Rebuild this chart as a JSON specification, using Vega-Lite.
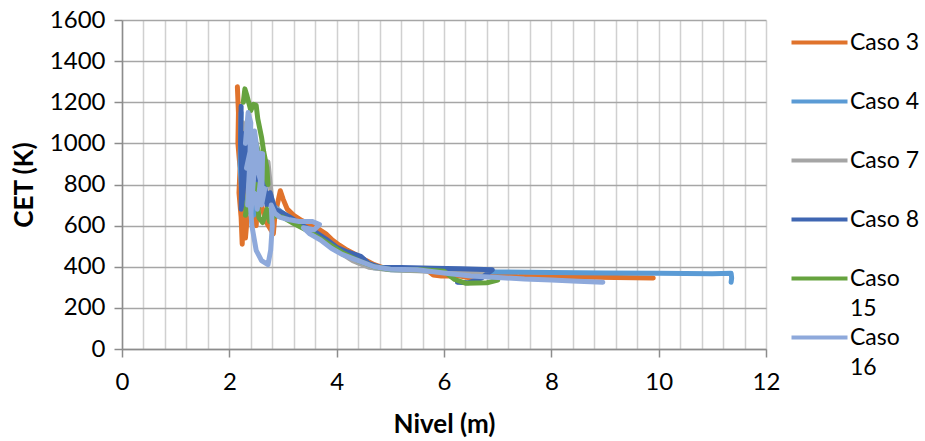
{
  "$schema": "https://vega.github.io/schema/vega-lite/v6.json",
  "autosize": {"type": "none"},
  "padding": {"left": 122, "top": 20, "right": 159, "bottom": 92},
  "width": 644,
  "height": 329,
  "background": "white",
  "config": {
    "view": {"stroke": null},
    "font": "Lato",
    "style": {"guide-label": {"lineHeight": 30}}
  },
  "data": {
    "values": [
      {"caso": "Caso 3", "i": 1, "x": 2.15, "y": 1275},
      {"caso": "Caso 3", "i": 2, "x": 2.17, "y": 1150},
      {"caso": "Caso 3", "i": 3, "x": 2.16, "y": 1000},
      {"caso": "Caso 3", "i": 4, "x": 2.2, "y": 880},
      {"caso": "Caso 3", "i": 5, "x": 2.18, "y": 760},
      {"caso": "Caso 3", "i": 6, "x": 2.22, "y": 640},
      {"caso": "Caso 3", "i": 7, "x": 2.24, "y": 510},
      {"caso": "Caso 3", "i": 8, "x": 2.26, "y": 700},
      {"caso": "Caso 3", "i": 9, "x": 2.3, "y": 950},
      {"caso": "Caso 3", "i": 10, "x": 2.33, "y": 800},
      {"caso": "Caso 3", "i": 11, "x": 2.3, "y": 540},
      {"caso": "Caso 3", "i": 12, "x": 2.42, "y": 900},
      {"caso": "Caso 3", "i": 13, "x": 2.45, "y": 720},
      {"caso": "Caso 3", "i": 14, "x": 2.5, "y": 600},
      {"caso": "Caso 3", "i": 15, "x": 2.55, "y": 820},
      {"caso": "Caso 3", "i": 16, "x": 2.6, "y": 700},
      {"caso": "Caso 3", "i": 17, "x": 2.68, "y": 620},
      {"caso": "Caso 3", "i": 18, "x": 2.82, "y": 560},
      {"caso": "Caso 3", "i": 19, "x": 2.85, "y": 650},
      {"caso": "Caso 3", "i": 20, "x": 2.95, "y": 770},
      {"caso": "Caso 3", "i": 21, "x": 3.0, "y": 730},
      {"caso": "Caso 3", "i": 22, "x": 3.08, "y": 680},
      {"caso": "Caso 3", "i": 23, "x": 3.2, "y": 650},
      {"caso": "Caso 3", "i": 24, "x": 3.35, "y": 625},
      {"caso": "Caso 3", "i": 25, "x": 3.5, "y": 605},
      {"caso": "Caso 3", "i": 26, "x": 3.65, "y": 585},
      {"caso": "Caso 3", "i": 27, "x": 3.8, "y": 560},
      {"caso": "Caso 3", "i": 28, "x": 3.92, "y": 530},
      {"caso": "Caso 3", "i": 29, "x": 4.05, "y": 505},
      {"caso": "Caso 3", "i": 30, "x": 4.2, "y": 480},
      {"caso": "Caso 3", "i": 31, "x": 4.35, "y": 460},
      {"caso": "Caso 3", "i": 32, "x": 4.55, "y": 430},
      {"caso": "Caso 3", "i": 33, "x": 4.7, "y": 410},
      {"caso": "Caso 3", "i": 34, "x": 4.9, "y": 392},
      {"caso": "Caso 3", "i": 35, "x": 5.3, "y": 386},
      {"caso": "Caso 3", "i": 36, "x": 5.7, "y": 380},
      {"caso": "Caso 3", "i": 37, "x": 5.8, "y": 360},
      {"caso": "Caso 3", "i": 38, "x": 5.95, "y": 355},
      {"caso": "Caso 3", "i": 39, "x": 6.3, "y": 355},
      {"caso": "Caso 3", "i": 40, "x": 6.5, "y": 345},
      {"caso": "Caso 3", "i": 41, "x": 7.0, "y": 360},
      {"caso": "Caso 3", "i": 42, "x": 7.4, "y": 352},
      {"caso": "Caso 3", "i": 43, "x": 8.5, "y": 350},
      {"caso": "Caso 3", "i": 44, "x": 9.9, "y": 345},

      {"caso": "Caso 4", "i": 1, "x": 2.22, "y": 1150},
      {"caso": "Caso 4", "i": 2, "x": 2.2, "y": 900},
      {"caso": "Caso 4", "i": 3, "x": 2.24, "y": 700},
      {"caso": "Caso 4", "i": 4, "x": 2.28, "y": 1000},
      {"caso": "Caso 4", "i": 5, "x": 2.35, "y": 800},
      {"caso": "Caso 4", "i": 6, "x": 2.45, "y": 650},
      {"caso": "Caso 4", "i": 7, "x": 2.55, "y": 900},
      {"caso": "Caso 4", "i": 8, "x": 2.65, "y": 720},
      {"caso": "Caso 4", "i": 9, "x": 2.8, "y": 700},
      {"caso": "Caso 4", "i": 10, "x": 3.0, "y": 660},
      {"caso": "Caso 4", "i": 11, "x": 3.2, "y": 620},
      {"caso": "Caso 4", "i": 12, "x": 3.5, "y": 580},
      {"caso": "Caso 4", "i": 13, "x": 3.8, "y": 520},
      {"caso": "Caso 4", "i": 14, "x": 4.1, "y": 470},
      {"caso": "Caso 4", "i": 15, "x": 4.4, "y": 420},
      {"caso": "Caso 4", "i": 16, "x": 4.7, "y": 395},
      {"caso": "Caso 4", "i": 17, "x": 5.0, "y": 386},
      {"caso": "Caso 4", "i": 18, "x": 5.5, "y": 382},
      {"caso": "Caso 4", "i": 19, "x": 6.0, "y": 380},
      {"caso": "Caso 4", "i": 20, "x": 6.5, "y": 378},
      {"caso": "Caso 4", "i": 21, "x": 7.0, "y": 375},
      {"caso": "Caso 4", "i": 22, "x": 8.0, "y": 372},
      {"caso": "Caso 4", "i": 23, "x": 9.0, "y": 370},
      {"caso": "Caso 4", "i": 24, "x": 10.0, "y": 368},
      {"caso": "Caso 4", "i": 25, "x": 11.0, "y": 366},
      {"caso": "Caso 4", "i": 26, "x": 11.35, "y": 368},
      {"caso": "Caso 4", "i": 27, "x": 11.36, "y": 345},
      {"caso": "Caso 4", "i": 28, "x": 11.35, "y": 325},

      {"caso": "Caso 7", "i": 1, "x": 2.25, "y": 1100},
      {"caso": "Caso 7", "i": 2, "x": 2.3, "y": 900},
      {"caso": "Caso 7", "i": 3, "x": 2.4, "y": 700},
      {"caso": "Caso 7", "i": 4, "x": 2.5, "y": 950},
      {"caso": "Caso 7", "i": 5, "x": 2.6, "y": 750},
      {"caso": "Caso 7", "i": 6, "x": 2.72, "y": 910},
      {"caso": "Caso 7", "i": 7, "x": 2.8, "y": 700},
      {"caso": "Caso 7", "i": 8, "x": 3.0, "y": 650},
      {"caso": "Caso 7", "i": 9, "x": 3.3, "y": 600},
      {"caso": "Caso 7", "i": 10, "x": 3.7, "y": 540},
      {"caso": "Caso 7", "i": 11, "x": 4.0, "y": 480},
      {"caso": "Caso 7", "i": 12, "x": 4.3, "y": 430},
      {"caso": "Caso 7", "i": 13, "x": 4.6, "y": 398},
      {"caso": "Caso 7", "i": 14, "x": 5.0, "y": 385},
      {"caso": "Caso 7", "i": 15, "x": 5.5, "y": 380},
      {"caso": "Caso 7", "i": 16, "x": 6.0, "y": 375},
      {"caso": "Caso 7", "i": 17, "x": 6.8, "y": 372},

      {"caso": "Caso 8", "i": 1, "x": 2.22, "y": 1180},
      {"caso": "Caso 8", "i": 2, "x": 2.21, "y": 1000},
      {"caso": "Caso 8", "i": 3, "x": 2.23, "y": 850},
      {"caso": "Caso 8", "i": 4, "x": 2.22, "y": 680},
      {"caso": "Caso 8", "i": 5, "x": 2.26, "y": 760},
      {"caso": "Caso 8", "i": 6, "x": 2.3, "y": 1050},
      {"caso": "Caso 8", "i": 7, "x": 2.35, "y": 850},
      {"caso": "Caso 8", "i": 8, "x": 2.4, "y": 700},
      {"caso": "Caso 8", "i": 9, "x": 2.5, "y": 950},
      {"caso": "Caso 8", "i": 10, "x": 2.55, "y": 800},
      {"caso": "Caso 8", "i": 11, "x": 2.64, "y": 850},
      {"caso": "Caso 8", "i": 12, "x": 2.7, "y": 700},
      {"caso": "Caso 8", "i": 13, "x": 2.76, "y": 760},
      {"caso": "Caso 8", "i": 14, "x": 2.85, "y": 680},
      {"caso": "Caso 8", "i": 15, "x": 3.0, "y": 660},
      {"caso": "Caso 8", "i": 16, "x": 3.2, "y": 630},
      {"caso": "Caso 8", "i": 17, "x": 3.4, "y": 595},
      {"caso": "Caso 8", "i": 18, "x": 3.6, "y": 570},
      {"caso": "Caso 8", "i": 19, "x": 3.8, "y": 535},
      {"caso": "Caso 8", "i": 20, "x": 4.0, "y": 495},
      {"caso": "Caso 8", "i": 21, "x": 4.2, "y": 472},
      {"caso": "Caso 8", "i": 22, "x": 4.45, "y": 450},
      {"caso": "Caso 8", "i": 23, "x": 4.6, "y": 415},
      {"caso": "Caso 8", "i": 24, "x": 4.8, "y": 398},
      {"caso": "Caso 8", "i": 25, "x": 5.2, "y": 396},
      {"caso": "Caso 8", "i": 26, "x": 5.8, "y": 393},
      {"caso": "Caso 8", "i": 27, "x": 6.3, "y": 390},
      {"caso": "Caso 8", "i": 28, "x": 6.9, "y": 385},
      {"caso": "Caso 8", "i": 29, "x": 6.7, "y": 345},
      {"caso": "Caso 8", "i": 30, "x": 6.45, "y": 322},
      {"caso": "Caso 8", "i": 31, "x": 6.25, "y": 325},

      {"caso": "Caso 15", "i": 1, "x": 2.26, "y": 1200},
      {"caso": "Caso 15", "i": 2, "x": 2.29, "y": 1265},
      {"caso": "Caso 15", "i": 3, "x": 2.33, "y": 1230},
      {"caso": "Caso 15", "i": 4, "x": 2.4, "y": 1160},
      {"caso": "Caso 15", "i": 5, "x": 2.45, "y": 1190},
      {"caso": "Caso 15", "i": 6, "x": 2.5, "y": 1185},
      {"caso": "Caso 15", "i": 7, "x": 2.53, "y": 1120},
      {"caso": "Caso 15", "i": 8, "x": 2.6, "y": 1030},
      {"caso": "Caso 15", "i": 9, "x": 2.64, "y": 960},
      {"caso": "Caso 15", "i": 10, "x": 2.7, "y": 880},
      {"caso": "Caso 15", "i": 11, "x": 2.72, "y": 800},
      {"caso": "Caso 15", "i": 12, "x": 2.6, "y": 900},
      {"caso": "Caso 15", "i": 13, "x": 2.5, "y": 1000},
      {"caso": "Caso 15", "i": 14, "x": 2.42, "y": 850},
      {"caso": "Caso 15", "i": 15, "x": 2.35, "y": 750},
      {"caso": "Caso 15", "i": 16, "x": 2.3, "y": 650},
      {"caso": "Caso 15", "i": 17, "x": 2.4, "y": 700},
      {"caso": "Caso 15", "i": 18, "x": 2.5, "y": 800},
      {"caso": "Caso 15", "i": 19, "x": 2.55, "y": 640},
      {"caso": "Caso 15", "i": 20, "x": 2.62, "y": 615},
      {"caso": "Caso 15", "i": 21, "x": 2.7, "y": 680},
      {"caso": "Caso 15", "i": 22, "x": 2.75, "y": 620},
      {"caso": "Caso 15", "i": 23, "x": 2.85, "y": 650},
      {"caso": "Caso 15", "i": 24, "x": 3.0, "y": 640},
      {"caso": "Caso 15", "i": 25, "x": 3.2, "y": 610},
      {"caso": "Caso 15", "i": 26, "x": 3.5, "y": 570},
      {"caso": "Caso 15", "i": 27, "x": 3.8, "y": 520},
      {"caso": "Caso 15", "i": 28, "x": 4.1, "y": 470},
      {"caso": "Caso 15", "i": 29, "x": 4.4, "y": 430},
      {"caso": "Caso 15", "i": 30, "x": 4.7, "y": 400},
      {"caso": "Caso 15", "i": 31, "x": 5.0, "y": 387},
      {"caso": "Caso 15", "i": 32, "x": 5.6, "y": 386},
      {"caso": "Caso 15", "i": 33, "x": 6.0, "y": 378},
      {"caso": "Caso 15", "i": 34, "x": 6.2, "y": 338},
      {"caso": "Caso 15", "i": 35, "x": 6.4, "y": 320},
      {"caso": "Caso 15", "i": 36, "x": 6.8, "y": 322},
      {"caso": "Caso 15", "i": 37, "x": 7.0, "y": 335},

      {"caso": "Caso 16", "i": 1, "x": 2.3, "y": 1000},
      {"caso": "Caso 16", "i": 2, "x": 2.35, "y": 1150},
      {"caso": "Caso 16", "i": 3, "x": 2.4, "y": 1100},
      {"caso": "Caso 16", "i": 4, "x": 2.38, "y": 900},
      {"caso": "Caso 16", "i": 5, "x": 2.34, "y": 700},
      {"caso": "Caso 16", "i": 6, "x": 2.42, "y": 1050},
      {"caso": "Caso 16", "i": 7, "x": 2.45, "y": 850},
      {"caso": "Caso 16", "i": 8, "x": 2.4, "y": 650},
      {"caso": "Caso 16", "i": 9, "x": 2.5, "y": 1000},
      {"caso": "Caso 16", "i": 10, "x": 2.32, "y": 880},
      {"caso": "Caso 16", "i": 11, "x": 2.47, "y": 1060},
      {"caso": "Caso 16", "i": 12, "x": 2.55, "y": 900},
      {"caso": "Caso 16", "i": 13, "x": 2.36, "y": 800},
      {"caso": "Caso 16", "i": 14, "x": 2.48, "y": 750},
      {"caso": "Caso 16", "i": 15, "x": 2.52, "y": 680},
      {"caso": "Caso 16", "i": 16, "x": 2.58, "y": 820},
      {"caso": "Caso 16", "i": 17, "x": 2.44, "y": 960},
      {"caso": "Caso 16", "i": 18, "x": 2.62, "y": 950},
      {"caso": "Caso 16", "i": 19, "x": 2.6, "y": 700},
      {"caso": "Caso 16", "i": 20, "x": 2.66, "y": 780},
      {"caso": "Caso 16", "i": 21, "x": 2.55, "y": 720},
      {"caso": "Caso 16", "i": 22, "x": 2.38, "y": 740},
      {"caso": "Caso 16", "i": 23, "x": 2.42, "y": 600},
      {"caso": "Caso 16", "i": 24, "x": 2.5, "y": 480},
      {"caso": "Caso 16", "i": 25, "x": 2.6, "y": 430},
      {"caso": "Caso 16", "i": 26, "x": 2.72, "y": 410},
      {"caso": "Caso 16", "i": 27, "x": 2.77, "y": 480},
      {"caso": "Caso 16", "i": 28, "x": 2.8, "y": 600},
      {"caso": "Caso 16", "i": 29, "x": 2.78, "y": 700},
      {"caso": "Caso 16", "i": 30, "x": 2.85, "y": 660},
      {"caso": "Caso 16", "i": 31, "x": 2.95, "y": 640},
      {"caso": "Caso 16", "i": 32, "x": 3.1, "y": 630},
      {"caso": "Caso 16", "i": 33, "x": 3.3, "y": 620},
      {"caso": "Caso 16", "i": 34, "x": 3.55, "y": 620},
      {"caso": "Caso 16", "i": 35, "x": 3.68, "y": 605},
      {"caso": "Caso 16", "i": 36, "x": 3.58, "y": 580},
      {"caso": "Caso 16", "i": 37, "x": 3.38, "y": 590},
      {"caso": "Caso 16", "i": 38, "x": 3.5, "y": 560},
      {"caso": "Caso 16", "i": 39, "x": 3.7, "y": 530},
      {"caso": "Caso 16", "i": 40, "x": 3.9, "y": 490},
      {"caso": "Caso 16", "i": 41, "x": 4.1, "y": 460},
      {"caso": "Caso 16", "i": 42, "x": 4.4, "y": 430},
      {"caso": "Caso 16", "i": 43, "x": 4.7, "y": 400},
      {"caso": "Caso 16", "i": 44, "x": 5.0, "y": 388},
      {"caso": "Caso 16", "i": 45, "x": 5.5, "y": 385},
      {"caso": "Caso 16", "i": 46, "x": 6.0, "y": 370},
      {"caso": "Caso 16", "i": 47, "x": 6.5, "y": 355},
      {"caso": "Caso 16", "i": 48, "x": 7.0, "y": 348},
      {"caso": "Caso 16", "i": 49, "x": 7.5, "y": 340},
      {"caso": "Caso 16", "i": 50, "x": 8.0, "y": 335},
      {"caso": "Caso 16", "i": 51, "x": 8.5, "y": 330},
      {"caso": "Caso 16", "i": 52, "x": 8.96, "y": 325}
    ]
  },
  "mark": {"type": "line", "strokeWidth": 5, "strokeCap": "round", "strokeJoin": "round"},
  "encoding": {
    "x": {
      "field": "x", "type": "quantitative",
      "scale": {"domain": [0, 12], "nice": false, "zero": false},
      "axis": {
        "title": "Nivel (m)",
        "values": [0, 0.4, 0.8, 1.2, 1.6, 2, 2.4, 2.8, 3.2, 3.6, 4, 4.4, 4.8, 5.2, 5.6, 6, 6.4, 6.8, 7.2, 7.6, 8, 8.4, 8.8, 9.2, 9.6, 10, 10.4, 10.8, 11.2, 11.6, 12],
        "labelExpr": "datum.value % 2 === 0 ? format(datum.value, 'd') : ''",
        "labelOverlap": false,
        "labelFlush": false,
        "grid": true,
        "gridColor": "#d0d0d0",
        "gridWidth": 1.5,
        "domainColor": "#8c8c8c",
        "domainWidth": 1.5,
        "tickColor": "#8c8c8c",
        "tickWidth": 1.5,
        "tickSize": 8,
        "tickOpacity": {"condition": {"test": "datum.value % 2 === 0", "value": 1}, "value": 0},
        "labelFont": "Lato",
        "labelFontSize": 24,
        "labelColor": "#000000",
        "labelPadding": 13,
        "titleFont": "Lato",
        "titleFontSize": 26,
        "titleFontWeight": "bold",
        "titleColor": "#000000",
        "titlePadding": 17
      }
    },
    "y": {
      "field": "y", "type": "quantitative",
      "scale": {"domain": [0, 1600], "nice": false},
      "axis": {
        "title": "CET (K)",
        "format": "d",
        "values": [0, 200, 400, 600, 800, 1000, 1200, 1400, 1600],
        "grid": true,
        "gridColor": "#a6a6a6",
        "gridWidth": 1.5,
        "domainColor": "#8c8c8c",
        "domainWidth": 1.5,
        "tickColor": "#8c8c8c",
        "tickWidth": 1.5,
        "tickSize": 8,
        "labelFont": "Lato",
        "labelFontSize": 24,
        "labelColor": "#000000",
        "labelPadding": 9,
        "titleFont": "Lato",
        "titleFontSize": 26,
        "titleFontWeight": "bold",
        "titleColor": "#000000",
        "titlePadding": 12
      }
    },
    "color": {
      "field": "caso", "type": "nominal",
      "scale": {
        "domain": ["Caso 3", "Caso 4", "Caso 7", "Caso 8", "Caso 15", "Caso 16"],
        "range": ["#E0732C", "#5B9BD5", "#A5A5A5", "#3F66B2", "#66A33F", "#8EA9DB"]
      },
      "legend": {
        "title": null,
        "orient": "none",
        "legendX": 686,
        "legendY": 11,
        "padding": 0,
        "symbolType": "M-4,0H4",
        "symbolSize": 196,
        "symbolStrokeWidth": 4,
        "symbolFillColor": "transparent",
        "rowPadding": 5,
        "labelOffset": 19,
        "labelFont": "Lato",
        "labelFontSize": 23,
        "labelColor": "#000000",
        "labelLimit": 200,
        "labelExpr": "datum.label === 'Caso 15' ? ['Caso', '15'] : datum.label === 'Caso 16' ? ['Caso', '16'] : [datum.label, '']"
      }
    },
    "order": {"field": "i", "type": "quantitative"}
  }
}
